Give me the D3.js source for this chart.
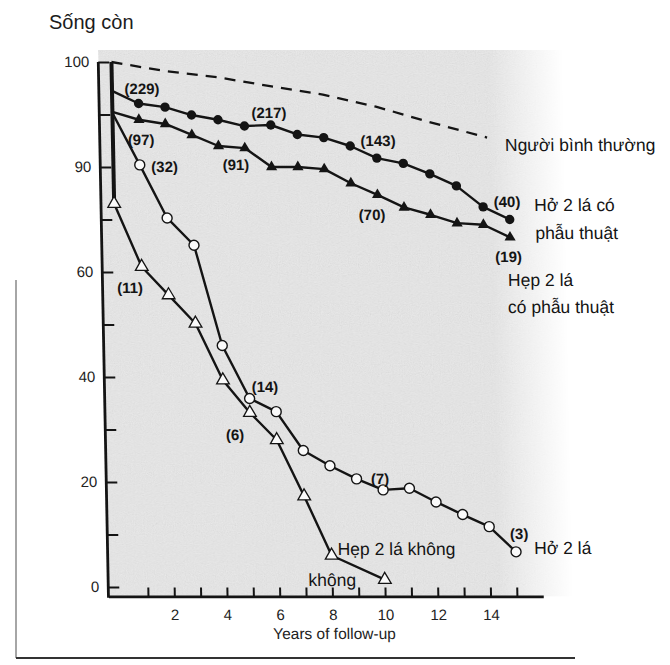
<!DOCTYPE html>
<html>
<head>
<meta charset="utf-8">
<script src="https://cdn.jsdelivr.net/npm/d3@7"></script>
<style>
  body { margin: 0; background: #fff; }
  svg { display: block; font-family: "Liberation Sans", Arial, sans-serif; }
</style>
</head>
<body>
<div id="chart"></div>
<script>
// survival (%), year 0 starts at 100 then drops
const hoPTYears = [0, 0, 1, 2, 3, 4, 5, 6, 7, 8, 9, 10, 11, 12, 13, 14, 15];
const hoPTValues = [100, 94.5, 92.1, 91.4, 89.9, 89.0, 87.8, 88.0, 86.2, 85.6, 84.0, 81.7, 80.7, 78.7, 76.4, 72.4, 70.0];

const hepPTYears = [0, 0, 1, 2, 3, 4, 5, 6, 7, 8, 9, 10, 11, 12, 13, 14, 15];
const hepPTValues = [100, 90.5, 89.0, 88.2, 86.1, 84.0, 83.6, 80.0, 80.0, 79.6, 76.9, 74.7, 72.3, 70.9, 69.3, 69.0, 66.6];

const hoKYears = [0, 0, 1, 2, 3, 4, 5, 6, 7, 8, 9, 10, 11, 12, 13, 14, 15];
const hoKValues = [100, 90.3, 80.4, 70.3, 65.1, 46.0, 35.9, 33.4, 26.0, 23.1, 20.6, 18.5, 18.8, 16.2, 13.8, 11.5, 6.7];

const hepKYears = [0, 0, 1, 2, 3, 4, 5, 6, 7, 8, 10];
const hepKValues = [100, 73.0, 61.0, 55.6, 50.2, 39.4, 33.2, 28.0, 17.3, 6.0, 1.4];

const normalYears = [0, 2, 4, 6, 8, 10, 12, 14.2];
const normalValues = [100, 98.3, 97.1, 95.4, 93.8, 91.5, 88.6, 85.6];

// y tick labels exactly as printed (the 80 line is printed "90")
const yTickValues = [0, 20, 40, 60, 80, 100];
const yTickLabels = ["0", "20", "40", "60", "90", "100"];
const xTickLabelYears = [2, 4, 6, 8, 10, 12, 14];

// patient counts printed next to the curves: [text, year, value]
const counts = [
  ["(229)", 1.14, 95.0], ["(97)", 1.07, 85.3], ["(32)", 1.94, 80.0],
  ["(217)", 5.94, 90.3], ["(91)", 4.65, 80.5], ["(143)", 10.06, 85.0],
  ["(70)", 9.78, 71.0], ["(40)", 14.91, 73.5], ["(19)", 14.93, 62.9],
  ["(11)", 0.54, 57.0], ["(14)", 5.59, 38.1], ["(6)", 4.42, 29.1],
  ["(7)", 9.89, 20.6], ["(3)", 15.13, 10.1]
];

// curve names: [text, year, value]
const names = [
  ["Người bình thường", 14.87, 84.2],
  ["Hở 2 lá có", 15.94, 72.8], ["phẫu thuật", 15.96, 67.4],
  ["Hẹp 2 lá", 14.89, 58.5], ["có phẫu thuật", 14.87, 53.3],
  ["Hở 2 lá", 15.69, 7.4],
  ["Hẹp 2 lá không", 8.23, 7.2], ["không", 7.1, 1.3]
];

const width = 670, height = 665;
const ink = "#141414";

const svg = d3.select("#chart").append("svg")
  .attr("width", width)
  .attr("height", height);

const defs = svg.append("defs");

// paper grain for the shaded plot area
const noise = defs.append("filter").attr("id", "grain")
  .attr("x", 0).attr("y", 0).attr("width", 1).attr("height", 1);
noise.append("feTurbulence")
  .attr("type", "fractalNoise")
  .attr("baseFrequency", 0.9)
  .attr("numOctaves", 2)
  .attr("seed", 3);
noise.append("feColorMatrix")
  .attr("type", "matrix")
  .attr("values", "0.33 0.33 0.33 0 0  0.33 0.33 0.33 0 0  0.33 0.33 0.33 0 0  0 0 0 0 1");

const fade = defs.append("linearGradient").attr("id", "fade")
  .attr("x1", 0).attr("x2", 1).attr("y1", 0).attr("y2", 0);
fade.append("stop").attr("offset", "0%").attr("stop-color", "#fff").attr("stop-opacity", 1);
fade.append("stop").attr("offset", "84%").attr("stop-color", "#fff").attr("stop-opacity", 1);
fade.append("stop").attr("offset", "100%").attr("stop-color", "#fff").attr("stop-opacity", 0);
defs.append("mask").attr("id", "fadeMask")
  .attr("maskContentUnits", "objectBoundingBox")
  .append("rect").attr("width", 1).attr("height", 1).attr("fill", "url(#fade)");

// title
svg.append("text")
  .attr("x", 49)
  .attr("y", 29)
  .attr("font-size", 20)
  .attr("fill", "#1c1c1c")
  .text("Sống còn");

// page frame lines of the scan
svg.append("line")
  .attr("x1", 16).attr("x2", 16).attr("y1", 280).attr("y2", 658)
  .attr("stroke", "#888").attr("stroke-width", 1.5);
svg.append("line")
  .attr("x1", 16).attr("x2", 575).attr("y1", 658).attr("y2", 658)
  .attr("stroke", "#333").attr("stroke-width", 2);

// the scan is slightly slanted, keep the whole chart in one sheared group
const g = svg.append("g").attr("transform", "skewX(1.09)");

const x = d3.scaleLinear().domain([-0.5, 16]).range([97.1, 531.9]);
const y = d3.scaleLinear().domain([0, 100]).range([587, 62]);
const axisY = y(-1.8);

// shaded area
const shade = g.append("g").attr("mask", "url(#fadeMask)");
shade.append("rect")
  .attr("x", x(-0.5)).attr("y", 50)
  .attr("width", 465).attr("height", axisY - 50)
  .attr("fill", "#ececec");
shade.append("rect")
  .attr("x", x(-0.5)).attr("y", 50)
  .attr("width", 465).attr("height", axisY - 50)
  .attr("filter", "url(#grain)")
  .attr("opacity", 0.18);

// x axis
const xAxis = g.append("g")
  .attr("transform", `translate(0,${axisY})`)
  .call(d3.axisBottom(x)
    .tickValues(d3.range(1, 16))
    .tickSize(-9)
    .tickSizeOuter(0)
    .tickPadding(13)
    .tickFormat(d => xTickLabelYears.includes(d) ? d : ""));
xAxis.select(".domain").attr("stroke", ink).attr("stroke-width", 2.8);
xAxis.selectAll(".tick line").attr("stroke", ink).attr("stroke-width", 2);
xAxis.selectAll("text").attr("font-size", 15).attr("fill", "#222").attr("font-family", null);

g.append("text")
  .attr("x", x(8.05))
  .attr("y", 639)
  .attr("text-anchor", "middle")
  .attr("font-size", 15.5)
  .attr("fill", "#222")
  .text("Years of follow-up");

// y axis
const yAxis = g.append("g")
  .attr("transform", `translate(${x(-0.5)},0)`)
  .call(d3.axisLeft(y)
    .tickValues(d3.range(0, 101, 10))
    .tickSize(-11)
    .tickSizeOuter(0)
    .tickPadding(9)
    .tickFormat(d => {
      const i = yTickValues.indexOf(d);
      return i < 0 ? "" : yTickLabels[i];
    }));
yAxis.select(".domain").remove();
yAxis.selectAll(".tick line").attr("stroke", ink).attr("stroke-width", 2);
yAxis.selectAll("text").attr("font-size", 15).attr("fill", "#222").attr("font-family", null);
g.append("line")
  .attr("x1", x(-0.5)).attr("x2", x(-0.5))
  .attr("y1", y(100)).attr("y2", axisY + 1.4)
  .attr("stroke", ink).attr("stroke-width", 2.8);

// curves
const series = [
  { years: normalYears, values: normalValues, marker: "none", from: 99, dash: "11,8" },
  { years: hoPTYears, values: hoPTValues, marker: "dot", from: 2 },
  { years: hepPTYears, values: hepPTValues, marker: "tri", from: 2 },
  { years: hoKYears, values: hoKValues, marker: "ring", from: 2 },
  { years: hepKYears, values: hepKValues, marker: "otri", from: 1 }
];

const line = d3.line()
  .x(d => x(d[0]))
  .y(d => y(d[1]));

series.forEach(s => {
  const pts = s.years.map((yr, i) => [yr, s.values[i]]);
  g.append("path")
    .attr("d", line(pts))
    .attr("fill", "none")
    .attr("stroke", ink)
    .attr("stroke-width", s.dash ? 2.3 : 2.4)
    .attr("stroke-dasharray", s.dash || null)
    .attr("stroke-linejoin", "round");
});

// thick vertical drop at year 0
g.append("line")
  .attr("x1", x(0)).attr("x2", x(0))
  .attr("y1", y(100)).attr("y2", y(hepKValues[1]))
  .attr("stroke", ink).attr("stroke-width", 4);

series.forEach(s => {
  const pts = s.years.map((yr, i) => [yr, s.values[i]]).slice(s.from);
  const m = g.append("g");
  if (s.marker === "dot") {
    m.selectAll("circle").data(pts).join("circle")
      .attr("cx", d => x(d[0])).attr("cy", d => y(d[1]))
      .attr("r", 4.7).attr("fill", ink);
  } else if (s.marker === "ring") {
    m.selectAll("circle").data(pts).join("circle")
      .attr("cx", d => x(d[0])).attr("cy", d => y(d[1]))
      .attr("r", 5).attr("fill", "#fafafa")
      .attr("stroke", ink).attr("stroke-width", 1.4);
  } else if (s.marker === "tri" || s.marker === "otri") {
    const open = s.marker === "otri";
    m.selectAll("path").data(pts).join("path")
      .attr("d", d3.symbol(d3.symbolTriangle, open ? 70 : 54))
      .attr("transform", d => `translate(${x(d[0])},${y(d[1])})`)
      .attr("fill", open ? "#fafafa" : ink)
      .attr("stroke", open ? ink : "none")
      .attr("stroke-width", 1.3);
  }
});

// counts
g.append("g").selectAll("text").data(counts).join("text")
  .attr("x", d => x(d[1]))
  .attr("y", d => y(d[2]))
  .attr("dy", "0.36em")
  .attr("text-anchor", "middle")
  .attr("font-size", 15)
  .attr("font-weight", "bold")
  .attr("fill", "#141414")
  .text(d => d[0]);

// curve names
g.append("g").selectAll("text").data(names).join("text")
  .attr("x", d => x(d[1]))
  .attr("y", d => y(d[2]))
  .attr("dy", "0.36em")
  .attr("font-size", 17.5)
  .attr("fill", "#141414")
  .text(d => d[0]);
</script>
</body>
</html>
